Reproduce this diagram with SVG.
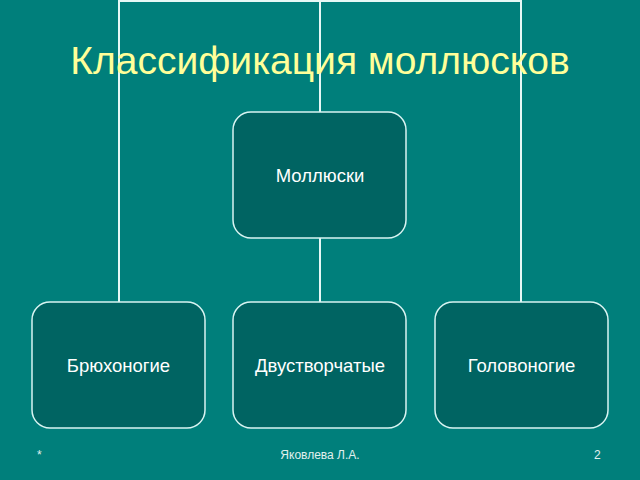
<svg xmlns="http://www.w3.org/2000/svg" width="640" height="480" viewBox="0 0 640 480">
<style>
.node rect{fill:#006462;stroke:#d8f4f2;stroke-width:1.5}
.node text{fill:#ffffff;font-family:"Liberation Sans",Arial,sans-serif;font-size:18.5px;text-anchor:middle}
.conn{stroke:#e6f8f6;stroke-width:2;fill:none}
.foot{fill:#e0f0ee;font-family:"Liberation Sans",Arial,sans-serif;font-size:12px}
</style>
<rect width="640" height="480" fill="#007f7b"/>
<g id="connectors">
<path class="conn" d="M119,302 V1 H521 V302"/>
<path class="conn" d="M320,1 V112"/>
<path class="conn" d="M320,238 V302"/>
</g>
<text x="320" y="74" fill="#ffff99" font-family="'Liberation Sans',Arial,sans-serif" font-size="39" text-anchor="middle">Классификация моллюсков</text>
<g id="n-molluski" class="node"><rect x="233" y="112" width="173" height="126" rx="18"/><text x="320" y="182">Моллюски</text></g>
<g id="n-bryukho" class="node"><rect x="32" y="302" width="173" height="126" rx="18"/><text x="118.5" y="372">Брюхоногие</text></g>
<g id="n-dvustv" class="node"><rect x="233" y="302" width="173" height="126" rx="18"/><text x="320" y="372">Двустворчатые</text></g>
<g id="n-golovo" class="node"><rect x="435" y="302" width="173" height="126" rx="18"/><text x="521.5" y="372">Головоногие</text></g>
<text class="foot" x="37" y="459">*</text>
<text class="foot" x="320" y="459" text-anchor="middle">Яковлева Л.А.</text>
<text class="foot" x="594" y="459">2</text>
</svg>
